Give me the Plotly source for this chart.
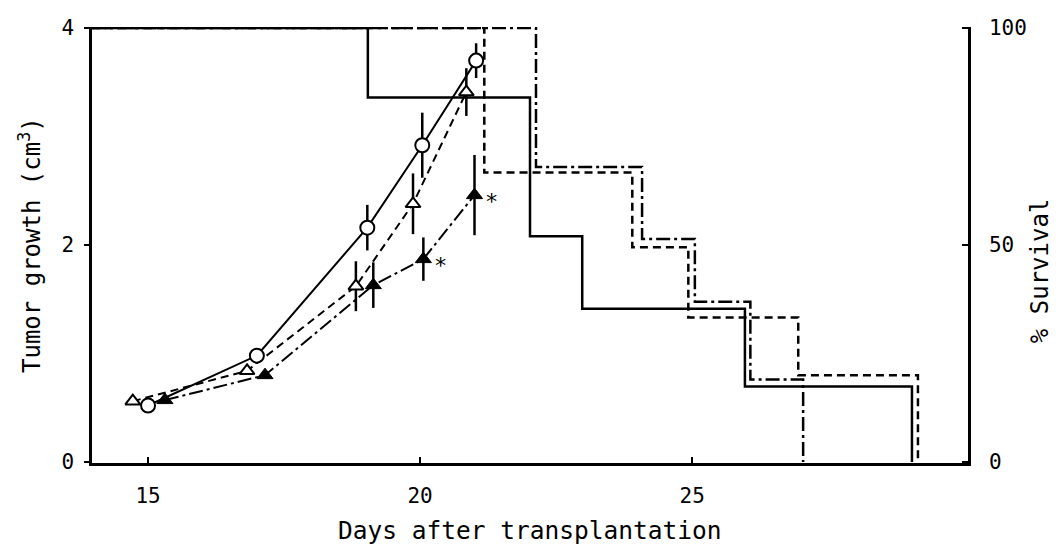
import plotly.graph_objects as go

# ---- Tumor growth data (left axis, cm^3) ----
circ_days = [15.0, 17.0, 19.03, 20.04, 21.03]
circ_vals = [0.52, 0.98, 2.16, 2.92, 3.70]
circ_err = [0, 0, 0.21, 0.30, 0.16]

otri_days = [14.72, 16.82, 18.82, 19.87, 20.85]
otri_vals = [0.56, 0.84, 1.62, 2.38, 3.41]
otri_err = [0, 0, 0.23, 0.28, 0.22]

ftri_days = [15.31, 17.15, 19.14, 20.06, 21.0]
ftri_vals = [0.57, 0.80, 1.63, 1.87, 2.46]
ftri_err = [0, 0, 0.21, 0.20, 0.37]

star_days = [20.06, 21.0]
star_vals = [1.87, 2.46]

# ---- Survival data (right axis, %) ----
surv_solid_days = [13.97, 19.04, 22.02, 22.98, 25.97, 29.04]
surv_solid_pct = [100, 84, 52, 35.3, 17.4, 0]

surv_dash_days = [13.97, 21.18, 23.9, 24.93, 26.95, 29.15]
surv_dash_pct = [100, 66.7, 49.5, 33.3, 20, 0]

surv_dashdot_days = [13.97, 22.13, 24.08, 25.05, 26.07, 27.04]
surv_dashdot_pct = [100, 68, 51.4, 36.9, 19, 0]

x_ticks = [15, 20, 25]
y_ticks = [0, 2, 4]
y2_ticks = [0, 50, 100]

FONT = "DejaVu Sans Mono"
DASH = "8px,5px"
DASHDOT = "14px,4px,3px,4px"

fig = go.Figure()

# survival step curves
for xs, ys, dash in [(surv_dashdot_days, surv_dashdot_pct, DASHDOT),
                     (surv_dash_days, surv_dash_pct, DASH),
                     (surv_solid_days, surv_solid_pct, "solid")]:
    fig.add_trace(go.Scatter(x=xs, y=ys, mode="lines", yaxis="y2",
                             line=dict(color="black", width=2.5, shape="hv", dash=dash),
                             hoverinfo="skip"))

# tumor growth curves
def err(a):
    return dict(type="data", array=a, visible=True, color="black", thickness=2.5, width=0)

fig.add_trace(go.Scatter(x=ftri_days, y=ftri_vals, mode="lines+markers",
                         line=dict(color="black", width=2, dash=DASHDOT),
                         marker=dict(symbol="triangle-up", size=14, color="black",
                                     line=dict(color="black", width=1)),
                         error_y=err(ftri_err)))
fig.add_trace(go.Scatter(x=otri_days, y=otri_vals, mode="lines+markers",
                         line=dict(color="black", width=2, dash=DASH),
                         marker=dict(symbol="triangle-up", size=13, color="white",
                                     line=dict(color="black", width=2)),
                         error_y=err(otri_err)))
fig.add_trace(go.Scatter(x=circ_days, y=circ_vals, mode="lines+markers",
                         line=dict(color="black", width=2),
                         marker=dict(symbol="circle", size=14, color="white",
                                     line=dict(color="black", width=2)),
                         error_y=err(circ_err)))

for sx, sy in zip(star_days, star_vals):
    fig.add_annotation(x=sx, y=sy, xref="x", yref="y", text="*", showarrow=False,
                       xshift=17, yshift=-6, font=dict(family=FONT, size=22, color="#000000"))

# axis titles
fig.add_annotation(x=0.5, y=0, xref="paper", yref="paper", yshift=-67, yanchor="middle",
                   text="Days after transplantation", showarrow=False,
                   font=dict(family=FONT, size=24.5, color="black"))
fig.add_annotation(x=0, y=0.5, xref="paper", yref="paper", xshift=-62, xanchor="center",
                   text="Tumor growth (cm<sup>3</sup>)", textangle=-90, showarrow=False,
                   font=dict(family=FONT, size=24, color="black"))
fig.add_annotation(x=1, y=0.44, xref="paper", yref="paper", xshift=72, xanchor="center",
                   text="% Survival", textangle=-90, showarrow=False,
                   font=dict(family=FONT, size=24, color="black"))

fig.update_layout(
    width=1059, height=548,
    margin=dict(l=92, r=91, t=27, b=85),
    plot_bgcolor="white", paper_bgcolor="white",
    showlegend=False,
    xaxis=dict(range=[13.97, 30.07], tickvals=x_ticks, ticks="inside", ticklen=6,
               tickwidth=2, tickcolor="black", showline=True, linecolor="black",
               linewidth=2.5, showgrid=False, zeroline=False,
               tickfont=dict(family=FONT, size=21, color="black"), ticklabelstandoff=12),
    yaxis=dict(range=[-0.01, 4.01], tickvals=y_ticks, ticks="outside", ticklen=5,
               tickwidth=2, tickcolor="black", showline=True, linecolor="black",
               linewidth=2.5, showgrid=False, zeroline=False,
               tickfont=dict(family=FONT, size=21, color="black"), ticklabelstandoff=6),
    yaxis2=dict(range=[-0.25, 100.25], tickvals=y2_ticks, ticks="inside", ticklen=6,
                tickwidth=2, tickcolor="black", showline=True, linecolor="black",
                linewidth=2.5, showgrid=False, zeroline=False, overlaying="y", side="right",
                tickfont=dict(family=FONT, size=21, color="black"), ticklabelstandoff=14),
)

fig.write_html("out.html", config={"displayModeBar": False},
               post_script="document.body.style.margin='0';document.body.style.padding='0';")
